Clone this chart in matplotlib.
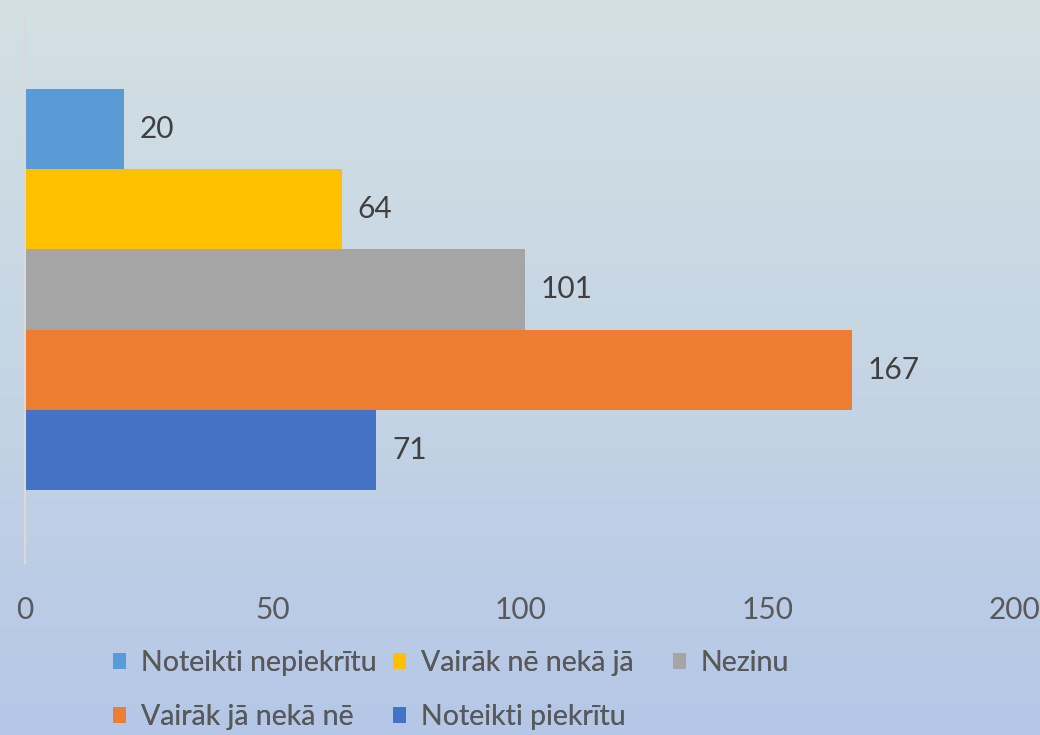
import numpy as np
import matplotlib
matplotlib.use("Agg")
import matplotlib.pyplot as plt
from matplotlib.colors import LinearSegmentedColormap

plt.rcParams['font.family'] = ['Lato', 'DejaVu Sans']

labels = ["Noteikti nepiekrītu", "Vairāk nē nekā jā", "Nezinu",
          "Vairāk jā nekā nē", "Noteikti piekrītu"]
values = [20, 64, 101, 167, 71]
colors = ["#5B9BD5", "#FFC000", "#A5A5A5", "#ED7D31", "#4472C4"]
xticks = [0, 50, 100, 150, 200]

FS = 21.5
LFS = 20.5

fig = plt.figure(figsize=(10.4, 7.35), dpi=100)

# gradient background
bg = fig.add_axes([0, 0, 1, 1], zorder=-1)
cmap = LinearSegmentedColormap.from_list("bg", ["#D3E0E3", "#C5D5E4", "#B4C7E7"])
bg.imshow(np.linspace(0, 1, 256).reshape(-1, 1), aspect="auto", cmap=cmap,
          extent=[0, 1, 0, 1])
bg.axis("off")

ax = fig.add_axes([25 / 1040, 1 - 563 / 735, 990 / 1040, 547 / 735])
ax.patch.set_alpha(0)

n = len(values)
pos = np.arange(n)[::-1]
handles = []
for p, v, c, l in zip(pos, values, colors, labels):
    b = ax.barh(p, v, height=1.0, color=c, label=l)
    handles.append(b)
    ax.annotate(str(v), (v, p), xytext=(11.5, 0), textcoords="offset points",
                va="center", ha="left", fontsize=FS, color="#404040")

ax.set_xlim(0, 200)
ax.set_ylim(-1.4125, 5.4125)
ax.set_xticks(xticks)
ax.set_yticks([])
ax.tick_params(axis="x", length=0, pad=24, labelsize=FS, labelcolor="#595959")
for s in ["top", "right", "bottom"]:
    ax.spines[s].set_visible(False)
ax.spines["left"].set_color("#D9D9D9")
ax.spines["left"].set_linewidth(1.5)

# legend: three equal-width columns like Excel
cols = [[0, 3], [1, 4], [2]]
col_x = [113, 393, 673]
for idx, x in zip(cols, col_x):
    lg = fig.legend([handles[i] for i in idx], [labels[i] for i in idx],
                    loc="upper left", bbox_to_anchor=(x / 1040, 1 - 650 / 735),
                    frameon=False, fontsize=LFS, labelcolor="#595959",
                    handlelength=0.47, handleheight=0.47, handletextpad=0.5,
                    labelspacing=0.98, borderpad=0, borderaxespad=0)
    fig.add_artist(lg)

fig.savefig("out.png", dpi=100)
